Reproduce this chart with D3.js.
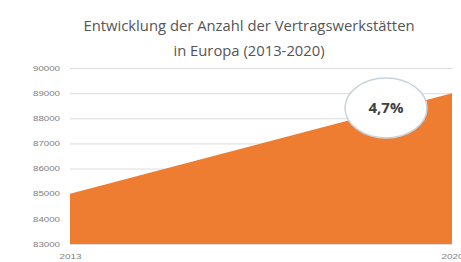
<!DOCTYPE html>
<html>
<head>
<meta charset="utf-8">
<script src="https://cdn.jsdelivr.net/npm/d3@7"></script>
<style>
  body { margin: 0; background: #fff; }
  svg { display: block; font-family: "Open Sans", Lato, sans-serif; }
</style>
</head>
<body>
<svg id="chart" width="461" height="262"></svg>
<script>
// data
const years  = [2013, 2020];
const values = [85000, 89000];
const yTicks = [83000, 84000, 85000, 86000, 87000, 88000, 89000, 90000];
const titleLines = ['Entwicklung der Anzahl der Vertragswerkstätten', 'in Europa (2013-2020)'];
const growthLabel = '4,7%';

const svg = d3.select('#chart');
const W = 461, H = 262;
const m = { top: 68, right: 9, bottom: 18, left: 70 };

const x = d3.scaleLinear().domain(d3.extent(years)).range([m.left, W - m.right]);
const y = d3.scaleLinear().domain([83000, 90000]).range([H - m.bottom, m.top]);

// title
svg.append('g').selectAll('text').data(titleLines).enter().append('text')
  .attr('x', 249).attr('y', (d, i) => 31 + i * 25)
  .attr('text-anchor', 'middle')
  .attr('font-size', 14.8)
  .attr('fill', '#555')
  .text(d => d);

// grid + y labels
const yAxis = d3.axisLeft(y).tickValues(yTicks).tickSize(-(W - m.right - m.left)).tickFormat(d3.format('d'));
const gy = svg.append('g').attr('transform', `translate(${m.left},0)`).call(yAxis);
gy.select('.domain').remove();
gy.selectAll('line').attr('stroke', '#dcdcdc').attr('stroke-width', 1);
gy.selectAll('text').attr('x', -10).attr('font-size', 7)
  .attr('textLength', 27).attr('lengthAdjust', 'spacingAndGlyphs')
  .attr('fill', '#808080');

// area
const data = years.map((yr, i) => ({ yr, v: values[i] }));
const area = d3.area().x(d => x(d.yr)).y0(y(83000)).y1(d => y(d.v));
svg.append('path').datum(data).attr('d', area).attr('fill', '#EE7D31');

// x labels
const xAxis = d3.axisBottom(x).tickValues(years).tickSize(0).tickFormat(d3.format('d'));
const gx = svg.append('g').attr('transform', `translate(0,${H - m.bottom})`).call(xAxis);
gx.select('.domain').remove();
gx.selectAll('text').attr('dy', 0).attr('y', 15).attr('font-size', 7)
  .attr('textLength', 22).attr('lengthAdjust', 'spacingAndGlyphs')
  .attr('fill', '#808080');

// growth bubble
const bx = 386, by = 108;
svg.append('ellipse').attr('cx', bx).attr('cy', by).attr('rx', 41).attr('ry', 30)
  .attr('fill', '#fff').attr('stroke', '#c9d3dc').attr('stroke-width', 1.5);
svg.append('text').attr('x', bx).attr('y', by + 5)
  .attr('text-anchor', 'middle').attr('font-size', 15).attr('font-weight', 'bold')
  .attr('fill', '#404040').text(growthLabel);
</script>
</body>
</html>
